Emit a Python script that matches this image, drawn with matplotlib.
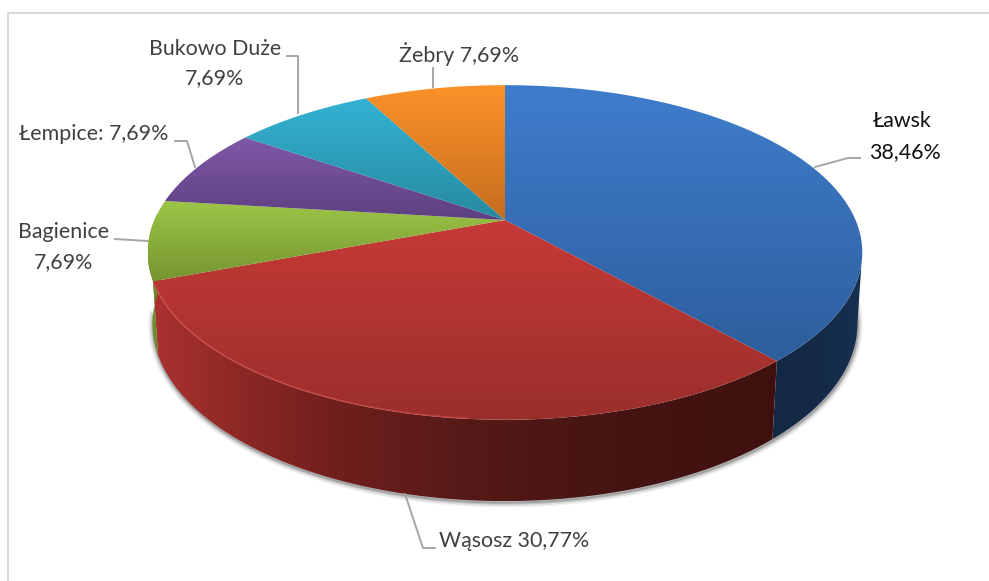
import numpy as np
import matplotlib
matplotlib.use("Agg")
import matplotlib.pyplot as plt
from matplotlib.colors import to_rgb
from matplotlib.patches import Polygon

plt.rcParams['font.family'] = ['Lato', 'DejaVu Sans']

names = ["Ławsk", "Wąsosz", "Bagienice", "Łempice", "Bukowo Duże", "Żebry"]
values = [38.46, 30.77, 7.69, 7.69, 7.69, 7.69]
top_light = ["#3F7DCC", "#C63A37", "#9DC648", "#7F59A8", "#34B2D4", "#FC9129"]
top_dark = ["#2D5E9D", "#9A2E2B", "#75952F", "#5E4080", "#268A9F", "#C56E1F"]

# perspective of the two disc edges (pixels of the picture)
TOP = dict(cx=505, cy=220, a=350.5, b=161, k=0.194)
BOTTOM = dict(cx=505, cy=290, a=346, b=171, k=0.19)


def disc(theta, cx, cy, a, b, k):
    # theta in degrees, clockwise from 12 o'clock
    u = np.sin(np.radians(theta))
    v = np.cos(np.radians(theta))
    d = 1 + k * v
    return np.column_stack([cx + a * u / d, cy - b * v / d])


def gradient(ax, poly, stops, vertical=True):
    # fill polygon with linear gradient, through clipped imshow
    x0, y0 = poly.min(axis=0)
    x1, y1 = poly.max(axis=0)
    t = np.linspace(0, 1, 256)
    pos = [s[0] for s in stops]
    rgb = np.array([to_rgb(s[1]) for s in stops])
    img = np.column_stack([np.interp(t, pos, rgb[:, i]) for i in range(3)])
    img = img[:, None, :] if vertical else img[None, :, :]
    patch = Polygon(poly, closed=True, transform=ax.transData, fc="none", ec="none")
    ax.add_patch(patch)
    im = ax.imshow(img, extent=(x0, x1, y1, y0), aspect="auto", zorder=2, interpolation="bilinear")
    im.set_clip_path(patch)


fig = plt.figure(figsize=(9.89, 5.81), dpi=100)
ax = fig.add_axes([0, 0, 1, 1])
ax.axis("off")

# frame, only left and top are visible
ax.plot([8, 8, 989], [581, 13, 13], color="#D9D9D9", lw=1.5, zorder=1)

edges = np.concatenate([[0], np.cumsum(values)]) / sum(values) * 360

# soft shadow under the side wall
sh = disc(np.linspace(95, 262, 300), **BOTTOM)
for w, al in [(7, 0.07), (5, 0.1), (3, 0.16), (1.5, 0.25)]:
    ax.plot(sh[:, 0] + 0.5, sh[:, 1] + 1.5, color="#404040", lw=w, alpha=al, zorder=1.5)

# side walls (front part only), starting at the widest point of the disc
t = np.linspace(101, edges[1], 120)
wall = np.vstack([disc(t, **TOP), disc(t[::-1], **BOTTOM)])
gradient(ax, wall, [(0, "#132844"), (0.5, "#142A47"), (1, "#17304F")], vertical=False)

t = np.linspace(edges[1], edges[2], 200)
wall = np.vstack([disc(t, **TOP), disc(t[::-1], **BOTTOM)])
gradient(ax, wall, [(0, "#AA322F"), (0.14, "#8C2825"), (0.3, "#6F1F1D"),
                    (0.5, "#551A18"), (0.75, "#451412"), (1, "#3E110F")], vertical=False)

t = np.linspace(edges[2], 272, 40)
wall = np.vstack([disc(t, **TOP), disc(t[::-1], **BOTTOM)])
gradient(ax, wall, [(0, "#7A9A30"), (1, "#5F7F28")], vertical=False)

# top faces
for i in range(len(values)):
    t = np.linspace(edges[i], edges[i + 1], 150)
    arc = disc(t, **TOP)
    poly = np.vstack([[TOP["cx"], TOP["cy"]], arc])
    gradient(ax, poly, [(0, top_light[i]), (1, top_dark[i])])

# light rim on the left front of the red slice
rim = disc(np.linspace(185, edges[2] - 1, 150), **TOP)
ax.plot(rim[:, 0], rim[:, 1] - 0.5, color="#D9524E", lw=1.2, alpha=0.55, zorder=3)

# leader lines
leaders = [
    ([860, 848, 815], [158, 158, 167]),
    ([435, 423, 405], [548, 548, 494]),
    ([115, 147], [239, 241]),
    ([175, 187, 195], [141, 141, 167]),
    ([287, 298, 298], [56, 56, 113]),
    ([433, 433], [68, 87]),
]
for lx, ly in leaders:
    ax.plot(lx, ly, color="#A6A6A6", lw=1.4, zorder=3)

GREY = "#404040"
FS = 15.4
ax.text(902, 121, names[0], color="#111111", fontsize=FS, ha="center", va="center")
ax.text(905, 152, "38,46%", color="#111111", fontsize=FS, ha="center", va="center")
ax.text(514, 541, "Wąsosz 30,77%", color=GREY, fontsize=FS, ha="center", va="center")
ax.text(64, 232, names[2], color=GREY, fontsize=FS, ha="center", va="center")
ax.text(64, 262, "7,69%", color=GREY, fontsize=FS, ha="center", va="center")
ax.text(94, 134, "Łempice: 7,69%", color=GREY, fontsize=FS, ha="center", va="center")
ax.text(215, 49, names[4], color=GREY, fontsize=FS, ha="center", va="center")
ax.text(215, 78, "7,69%", color=GREY, fontsize=FS, ha="center", va="center")
ax.text(459, 54, "Żebry 7,69%", color=GREY, fontsize=FS, ha="center", va="center")

ax.set_xlim(0, 989)
ax.set_ylim(581, 0)
fig.savefig("out.png", dpi=100)
